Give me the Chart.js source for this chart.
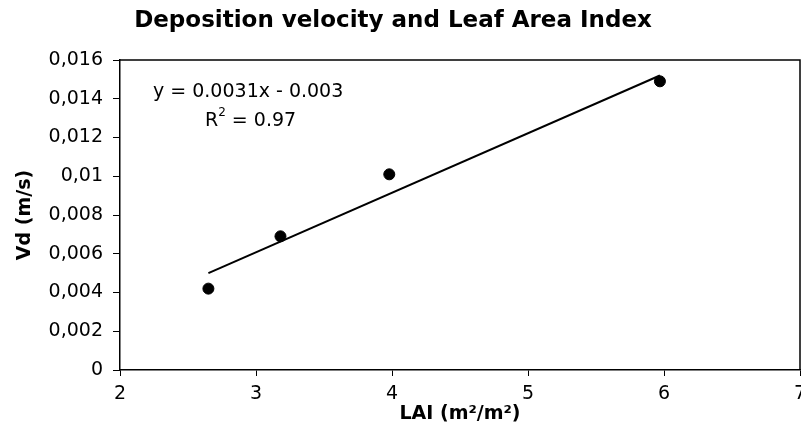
<!DOCTYPE html>
<html>
<head>
<meta charset="utf-8">
<script src="https://cdn.jsdelivr.net/npm/chart.js@4.4.0/dist/chart.umd.min.js"></script>
<style>
  html, body { margin: 0; padding: 0; background: #fff; overflow: hidden; }
  #wrap { width: 820px; height: 432px; position: relative; }
</style>
</head>
<body>
<div id="wrap"><canvas id="c" width="820" height="432"></canvas></div>
<script>
const laiValues = [2.65, 3.18, 3.98, 5.97];
const vdValues = [0.0042, 0.0069, 0.0101, 0.0149];
const trendX = [2.65, 5.97];
const trendY = [0.0050, 0.0152];
const xTickLabels = ['2', '3', '4', '5', '6', '7'];
const yTickLabels = ['0', '0,002', '0,004', '0,006', '0,008', '0,01', '0,012', '0,014', '0,016'];
const titleText = 'Deposition velocity and Leaf Area Index';
const equationText = 'y = 0.0031x - 0.003';
const r2Text = '= 0.97';

const FONT = 'DejaVu Sans';

const textPlugin = {
  id: 'extras',
  afterDraw(chart) {
    const ctx = chart.ctx;
    const a = chart.chartArea;
    ctx.save();
    // plot border top & right
    ctx.strokeStyle = '#000';
    ctx.lineWidth = 1.5;
    ctx.beginPath();
    ctx.moveTo(a.left, a.top);
    ctx.lineTo(a.right, a.top);
    ctx.lineTo(a.right, a.bottom);
    ctx.stroke();
    ctx.fillStyle = '#000';
    ctx.textBaseline = 'middle';
    // title
    ctx.font = 'bold 23px "' + FONT + '"';
    ctx.textAlign = 'center';
    ctx.fillText(titleText, 393, 21);
    // equation
    ctx.font = '19px "' + FONT + '"';
    ctx.textAlign = 'left';
    ctx.fillText(equationText, a.left + 33, a.top + 32);
    // R^2
    let x = a.left + 85;
    const y = a.top + 61;
    ctx.fillText('R', x, y);
    x += ctx.measureText('R').width;
    ctx.font = '12px "' + FONT + '"';
    ctx.fillText('2', x, y - 8);
    x += ctx.measureText('2').width + 6;
    ctx.font = '19px "' + FONT + '"';
    ctx.fillText(r2Text, x, y);
    ctx.restore();
  }
};

new Chart(document.getElementById('c'), {
  type: 'scatter',
  data: {
    datasets: [
      {
        label: 'Vd',
        data: laiValues.map((v, i) => ({ x: v, y: vdValues[i] })),
        backgroundColor: '#000',
        borderColor: '#000',
        pointRadius: 5.5,
        pointHoverRadius: 5.5
      },
      {
        type: 'line',
        label: 'trend',
        data: trendX.map((v, i) => ({ x: v, y: trendY[i] })),
        borderColor: '#000',
        borderWidth: 2,
        pointRadius: 0,
        fill: false
      }
    ]
  },
  options: {
    responsive: false,
    animation: false,
    events: [],
    layout: { padding: { left: 0, right: 20, top: 60, bottom: 0 } },
    plugins: {
      legend: { display: false },
      tooltip: { enabled: false },
      title: { display: false }
    },
    scales: {
      x: {
        type: 'linear',
        min: 2, max: 7,
        afterFit(s) { s.height = 62; },
        ticks: {
          stepSize: 1,
          color: '#000',
          padding: 7,
          font: { family: FONT, size: 19 },
          callback: (v) => xTickLabels[Math.round(v - 2)]
        },
        grid: { drawOnChartArea: false, tickLength: 6, color: '#000', lineWidth: 1 },
        border: { color: '#000', width: 1.5 },
        title: {
          display: true,
          text: 'LAI (m²/m²)',
          color: '#000',
          font: { family: FONT, size: 19, weight: 'bold' },
          padding: { top: 0, bottom: 7 }
        }
      },
      y: {
        min: 0, max: 0.016,
        afterFit(s) { s.width = 120; },
        ticks: {
          stepSize: 0.002,
          color: '#000',
          padding: 10,
          font: { family: FONT, size: 19 },
          callback: (v) => yTickLabels[Math.round(v / 0.002)]
        },
        grid: { drawOnChartArea: false, tickLength: 7, color: '#000', lineWidth: 1 },
        border: { color: '#000', width: 1.5 },
        title: {
          display: true,
          text: 'Vd (m/s)',
          color: '#000',
          font: { family: FONT, size: 19, weight: 'bold' },
          padding: { top: 14, bottom: 0 }
        }
      }
    }
  },
  plugins: [textPlugin]
});
</script>
</body>
</html>
